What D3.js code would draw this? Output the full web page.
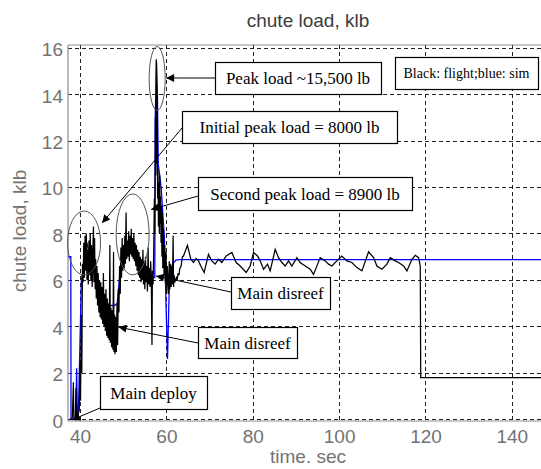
<!DOCTYPE html>
<html>
<head>
<meta charset="utf-8">
<script src="https://cdn.jsdelivr.net/npm/d3@7/dist/d3.min.js"></script>
<style>
  html, body { margin: 0; padding: 0; background: #fff; }
  svg { display: block; }
</style>
</head>
<body>
<svg id="chart" width="541" height="469"></svg>
<script>
// ---- data -------------------------------------------------------------
const xTicks = [40, 60, 80, 100, 120, 140];
const yTicks = [0, 2, 4, 6, 8, 10, 12, 14, 16];

// flight measurement (black), time in s, load in klb
const flightTime = [
  37.6, 38.2, 38.45, 38.55, 38.9, 39.05, 39.15, 39.5, 39.8, 40.0, 40.1, 40.3, 40.4, 40.55,
  40.7, 40.85, 41.0, 41.15, 41.3, 41.45, 41.6, 41.75, 41.9, 42.05, 42.2, 42.35, 42.5, 42.65,
  42.8, 42.95, 43.1, 43.2, 43.35, 43.5,
  43.6, 43.75, 43.9, 44.05, 44.2, 44.35, 44.5, 44.65, 44.8, 44.95, 45.1, 45.25, 45.4, 45.55,
  45.7, 45.85, 46.0, 46.15, 46.3, 46.45, 46.6, 46.75, 46.9, 47.0, 47.15, 47.3, 47.45, 47.6,
  47.75, 47.85, 48.0, 48.1, 48.25, 48.4, 48.55, 48.7,
  48.85, 49.0, 49.15, 49.3, 49.45, 49.6, 49.75, 49.9, 50.05, 50.2, 50.35, 50.5, 50.65, 50.8,
  50.95, 51.1, 51.25, 51.4, 51.55, 51.7, 51.85, 52.0, 52.15, 52.3, 52.45, 52.6, 52.75, 52.9,
  53.05, 53.2, 53.35, 53.5, 53.65, 53.8, 53.95, 54.1, 54.25, 54.4, 54.55, 54.7, 54.85, 55.0,
  55.15, 55.3, 55.45, 55.6, 55.75, 55.9, 56.05, 56.2, 56.35, 56.5, 56.65, 56.75, 56.9,
  57.05, 57.2, 57.3, 57.45, 57.55, 57.65, 57.75, 57.85, 57.95, 58.05, 58.15, 58.25, 58.35,
  58.45, 58.55, 58.65, 58.75, 58.85, 58.95, 59.05, 59.15, 59.3, 59.45, 59.6, 59.75, 59.9,
  60.05, 60.2, 60.35, 60.5, 60.65, 60.8, 60.95, 61.1, 61.25, 61.4, 61.55, 61.65, 61.8, 61.95,
  62.1, 62.3, 62.5, 62.7, 62.9, 63.1, 63.4, 63.7,
  63.95, 64.87, 65.65, 66.27, 66.88, 67.42, 67.96, 68.74, 69.74, 70.51, 71.29, 72.06, 72.83,
  73.84, 75.15, 76.15, 77.08, 78.47, 79.4, 80.17, 81.1, 81.71, 82.49, 83.41, 84.03, 85.19,
  85.96, 86.74, 87.51, 88.28, 89.05, 90.21, 90.98, 92.14, 93.3, 94.07, 95.62, 96.78, 97.55,
  98.32, 99.48, 100.64, 101.8, 102.96, 104.12, 105.28, 106.82, 107.98, 108.75, 109.91,
  111.07, 111.84, 113.0, 113.77, 114.93, 115.7, 116.86, 117.64, 118.41, 118.79,
  118.9, 150
];
const flightLoad = [
  0.0, 0.05, 1.6, 0.1, 0.0, 1.35, 0.05, 0.2, 0.4, 2.5, 0.8, 4.5, 2.0, 6.7,
  5.9, 7.6, 6.1, 7.9, 6.4, 8.0, 6.0, 7.3, 5.8, 7.7, 6.2, 8.0, 6.0, 7.5,
  5.7, 7.2, 8.3, 5.9, 7.8, 5.6,
  6.9, 5.2, 6.6, 4.9, 6.3, 4.6, 6.0, 4.4, 5.9, 4.3, 5.7, 4.1, 6.3, 4.0,
  5.4, 3.8, 5.6, 3.6, 5.2, 3.5, 5.0, 3.4, 7.5, 3.3, 4.8, 3.1, 4.7, 3.0,
  7.2, 2.9, 4.5, 2.8, 4.4, 2.9, 5.0, 3.2,
  5.6, 4.6, 6.6, 5.4, 7.4, 6.1, 7.8, 6.4, 7.5, 6.5, 7.9, 6.7, 8.9, 6.9,
  7.7, 7.0, 8.1, 6.8, 7.9, 7.1, 8.2, 7.0, 7.8, 6.9, 8.0, 6.8, 7.6, 6.6,
  7.5, 6.4, 7.3, 6.2, 7.2, 6.1, 7.0, 5.9, 6.9, 6.0, 7.3, 5.8, 6.8, 5.6,
  7.0, 5.9, 6.6, 5.5, 7.4, 5.8, 6.5, 5.7, 6.8, 5.9, 3.2, 6.4, 5.8,
  7.2, 9.5, 8.0, 13.0, 10.5, 15.5, 11.0, 14.0, 9.5, 10.8, 8.3, 10.2, 8.0,
  10.5, 8.4, 9.6, 7.6, 9.2, 7.0, 8.9, 6.5, 8.2, 6.2, 7.5, 5.9, 7.2,
  5.4, 6.6, 6.0, 5.4, 6.8, 5.6, 6.7, 5.7, 6.6, 5.8, 7.9, 5.7, 6.2, 5.9,
  6.0, 6.1, 6.0, 6.3, 6.2, 6.5, 6.6, 7.0,
  7.03, 7.49, 6.89, 6.75, 6.92, 6.82, 6.6, 6.32, 7.1, 6.82, 6.68, 6.89, 6.75,
  7.03, 7.18, 6.75, 6.6, 6.32, 6.6, 7.18, 7.03, 6.82, 6.46, 6.68, 6.39, 7.32,
  6.96, 6.75, 6.6, 6.82, 6.6, 6.96, 6.75, 6.6, 6.46, 6.24, 6.96, 6.82, 6.68,
  6.6, 6.82, 7.03, 6.82, 6.75, 6.53, 6.39, 7.21, 6.96, 6.6, 6.46,
  6.68, 6.96, 6.82, 6.75, 6.6, 6.39, 6.89, 7.06, 6.96, 6.6,
  1.8, 1.8
];

// simulation (blue)
const simTime = [
  37.2, 37.85, 37.9, 39.0, 39.2, 39.35, 39.6, 40.0, 40.3, 40.7, 41.2, 41.6, 42.0, 42.5,
  43.2, 44.0, 45.0, 46.0, 47.0, 48.0, 48.6, 49.1, 49.4, 49.8, 50.5, 51.5, 52.5, 53.5,
  54.5, 55.5, 56.5, 57.3, 57.4, 57.7, 57.9, 58.1, 58.5, 58.8, 59.1, 59.5, 59.9, 60.25,
  60.5, 60.7, 61.0, 61.5, 62.2, 63.0, 150
];
const simLoad = [
  7.0, 7.0, 0.0, 0.0, 2.2, 0.3, 0.2, 3.5, 6.0, 6.4, 7.3, 7.6, 7.2, 6.8,
  6.3, 5.8, 5.3, 5.0, 4.9, 4.9, 5.0, 6.0, 6.7, 7.3, 7.5, 7.5, 7.2, 6.8,
  6.5, 6.3, 6.1, 6.1, 13.0, 15.4, 14.2, 11.0, 10.4, 9.9, 9.0, 7.9, 5.0, 2.6,
  4.5, 6.0, 6.4, 6.7, 6.85, 6.87, 6.87
];

// callouts: arrow tip in data units, label box in page pixels
const callouts = [
  { text: "Peak load ~15,500 lb",        tip: [59.93, 14.69], box: [215, 62, 381, 94],  from: [215, 78] },
  { text: "Initial peak load = 8000 lb", tip: [45.1, 8.45],   box: [182, 111, 397, 143], from: [182, 128] },
  { text: "Second peak load = 8900 lb",  tip: [56.45, 9.03],  box: [198, 177, 412, 210], from: [198, 196] },
  { text: "Main disreef",                tip: [57.6, 6.17],   box: [231, 277, 330, 309], from: [231, 292] },
  { text: "Main disreef",                tip: [48.9, 3.97],   box: [198, 327, 297, 358], from: [198, 343] },
  { text: "Main deploy",                 tip: [38.15, -0.02], box: [100, 376, 207, 409], from: [100, 408] }
];
const legendText = "Black: flight;blue: sim";

// highlighted regions: centre in data units, radii in pixels
const rings = [
  { c: [57.85, 14.67], rx: 8,    ry: 32 },
  { c: [40.93, 7.59],  rx: 16.5, ry: 32 },
  { c: [52.17, 7.96],  rx: 16.5, ry: 40.5 }
];

// ---- layout -----------------------------------------------------------
const plot = { left: 68, top: 45, right: 555, bottom: 421 };
const svg = d3.select("#chart");

const x = d3.scaleLinear().domain([37.2, 150]).range([plot.left, plot.right]);
const y = d3.scaleLinear().domain([-0.07, 16.11]).range([plot.bottom, plot.top]);

svg.append("defs").append("clipPath").attr("id", "plotClip")
  .append("rect")
  .attr("x", plot.left).attr("y", plot.top)
  .attr("width", plot.right - plot.left).attr("height", plot.bottom - plot.top);

svg.select("defs").append("marker")
  .attr("id", "head").attr("viewBox", "0 0 10 10")
  .attr("refX", 10).attr("refY", 5)
  .attr("markerWidth", 10).attr("markerHeight", 8)
  .attr("markerUnits", "userSpaceOnUse")
  .attr("orient", "auto")
  .append("path").attr("d", "M0,0 L10,5 L0,10 Z").attr("fill", "#000");

// axes with tick labels
const labelFont = "'Liberation Sans', Arial, sans-serif";
const xAxis = svg.append("g")
  .attr("transform", `translate(0,${plot.bottom})`)
  .call(d3.axisBottom(x).tickValues(xTicks).tickSize(0).tickPadding(9));
const yAxis = svg.append("g")
  .attr("transform", `translate(${plot.left},0)`)
  .call(d3.axisLeft(y).tickValues(yTicks).tickSize(0).tickPadding(5));
[xAxis, yAxis].forEach(g => {
  g.select(".domain").remove();
  g.selectAll("text")
    .attr("fill", "#737373")
    .style("font-family", labelFont)
    .style("font-size", "19px");
});
yAxis.selectAll("text").attr("dy", "0.42em");

// grid
const grid = svg.append("g").attr("clip-path", "url(#plotClip)")
  .attr("stroke", "#222").attr("stroke-width", 1).attr("stroke-dasharray", "4,3");
grid.selectAll("line.v").data(xTicks).join("line")
  .attr("x1", d => Math.round(x(d)) + 0.5).attr("x2", d => Math.round(x(d)) + 0.5)
  .attr("y1", plot.top).attr("y2", plot.bottom);
grid.selectAll("line.h").data(yTicks).join("line")
  .attr("y1", d => Math.round(y(d)) + 0.5).attr("y2", d => Math.round(y(d)) + 0.5)
  .attr("x1", plot.left).attr("x2", plot.right);

// frame
const frame = svg.append("g").attr("stroke", "#8c8c8c").attr("stroke-width", 1.2);
frame.append("line").attr("x1", plot.left).attr("x2", plot.left).attr("y1", plot.top).attr("y2", plot.bottom);
frame.append("line").attr("x1", plot.left).attr("x2", plot.right).attr("y1", plot.top).attr("y2", plot.top);
frame.append("line").attr("x1", plot.left).attr("x2", plot.right).attr("y1", plot.bottom).attr("y2", plot.bottom);

// series
const line = d3.line().x(d => x(d[0])).y(d => y(d[1]));
const series = svg.append("g").attr("clip-path", "url(#plotClip)").attr("fill", "none");
series.append("path")
  .attr("d", line(d3.zip(simTime, simLoad)))
  .attr("stroke", "#0000ff").attr("stroke-width", 1.3);
series.append("path")
  .attr("d", line(d3.zip(flightTime, flightLoad)))
  .attr("stroke", "#000").attr("stroke-width", 1.25).attr("stroke-linejoin", "miter");

// highlight rings
svg.append("g").selectAll("ellipse").data(rings).join("ellipse")
  .attr("cx", d => x(d.c[0])).attr("cy", d => y(d.c[1]))
  .attr("rx", d => d.rx).attr("ry", d => d.ry)
  .attr("fill", "none").attr("stroke", "#555").attr("stroke-width", 1);

// callouts
const serif = "'Liberation Serif', 'Times New Roman', serif";
const cg = svg.append("g");
callouts.forEach(c => {
  cg.append("line")
    .attr("x1", c.from[0]).attr("y1", c.from[1])
    .attr("x2", x(c.tip[0])).attr("y2", y(c.tip[1]))
    .attr("stroke", "#000").attr("stroke-width", 1)
    .attr("marker-end", "url(#head)");
});
callouts.forEach(c => {
  const [x0, y0, x1, y1] = c.box;
  cg.append("rect")
    .attr("x", x0 + 0.5).attr("y", y0 + 0.5)
    .attr("width", x1 - x0).attr("height", y1 - y0)
    .attr("fill", "#fff").attr("stroke", "#000").attr("stroke-width", 1.2);
  cg.append("text")
    .attr("x", (x0 + x1) / 2).attr("y", (y0 + y1) / 2 + 6)
    .attr("text-anchor", "middle")
    .style("font-family", serif).style("font-size", "17px").attr("fill", "#000")
    .text(c.text);
});

// legend note
cg.append("rect").attr("x", 395.5).attr("y", 57.5).attr("width", 143).attr("height", 32)
  .attr("fill", "#fff").attr("stroke", "#000").attr("stroke-width", 1.2);
cg.append("text").attr("x", 466.5).attr("y", 78).attr("text-anchor", "middle")
  .style("font-family", serif).style("font-size", "14px").attr("fill", "#000")
  .text(legendText);

// titles
svg.append("text").attr("x", 308).attr("y", 27).attr("text-anchor", "middle")
  .style("font-family", labelFont).style("font-size", "19px").attr("fill", "#3c3c3c")
  .text("chute load, klb");
svg.append("text").attr("x", 308).attr("y", 463).attr("text-anchor", "middle")
  .style("font-family", labelFont).style("font-size", "19px").attr("fill", "#737373")
  .text("time. sec");
svg.append("text")
  .attr("transform", "translate(26,231) rotate(-90)")
  .attr("text-anchor", "middle")
  .style("font-family", labelFont).style("font-size", "19px").attr("fill", "#737373")
  .text("chute load, klb");
</script>
</body>
</html>
